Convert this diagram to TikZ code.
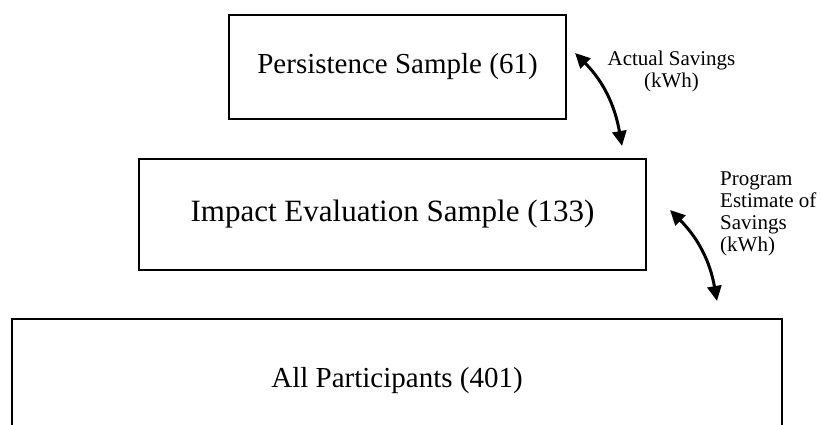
\documentclass[tikz,border=0pt]{standalone}
\usepackage{fontspec}
\setmainfont{Liberation Serif}
\usetikzlibrary{arrows.meta,positioning}

\begin{document}
\begin{tikzpicture}[x=1pt,y=1pt]
\tikzstyle{every node}+=[inner sep=0pt]
\tikzstyle{samplebox}=[draw=black, line width=1.2pt]
\tikzstyle{flow}=[line width=3pt, {Triangle[length=15pt,width=14pt]}-{Triangle[length=15pt,width=14pt]}]
\tikzstyle{note}=[font=\fontsize{21}{22}\selectfont]
\useasboundingbox (0,0) rectangle (822,-425);
\clip (0,0) rectangle (822,-425);
% the three nested samples
\node [samplebox, minimum width=337pt, minimum height=104pt, font=\fontsize{29}{34}\selectfont] (persist) at (397.5,-67) {Persistence Sample (61)};
\node [samplebox, minimum width=507pt, minimum height=111pt, font=\fontsize{31}{36}\selectfont] (impact) at (392.5,-214.5) {Impact Evaluation Sample (133)};
\node [samplebox, minimum width=770pt, minimum height=124pt, font=\fontsize{29}{34}\selectfont] (all) at (397,-381) {All Participants (401)};
% savings arrows
\coordinate (s1) at (575,-53);
\coordinate (e1) at (622,-146);
\draw [flow] (s1) to [out=-45,in=100] (e1);
\node [note, align=center] (actual) at (671.5,-71) {Actual Savings\\(kWh)};
\coordinate (s2) at (670,-210);
\coordinate (e2) at (717,-301);
\draw [flow] (s2) to [out=-45,in=100] (e2);
\node [note, align=left, anchor=north west] (estimate) at (720,-172) {Program\\Estimate of\\Savings\\(kWh)};
\end{tikzpicture}
\end{document}
